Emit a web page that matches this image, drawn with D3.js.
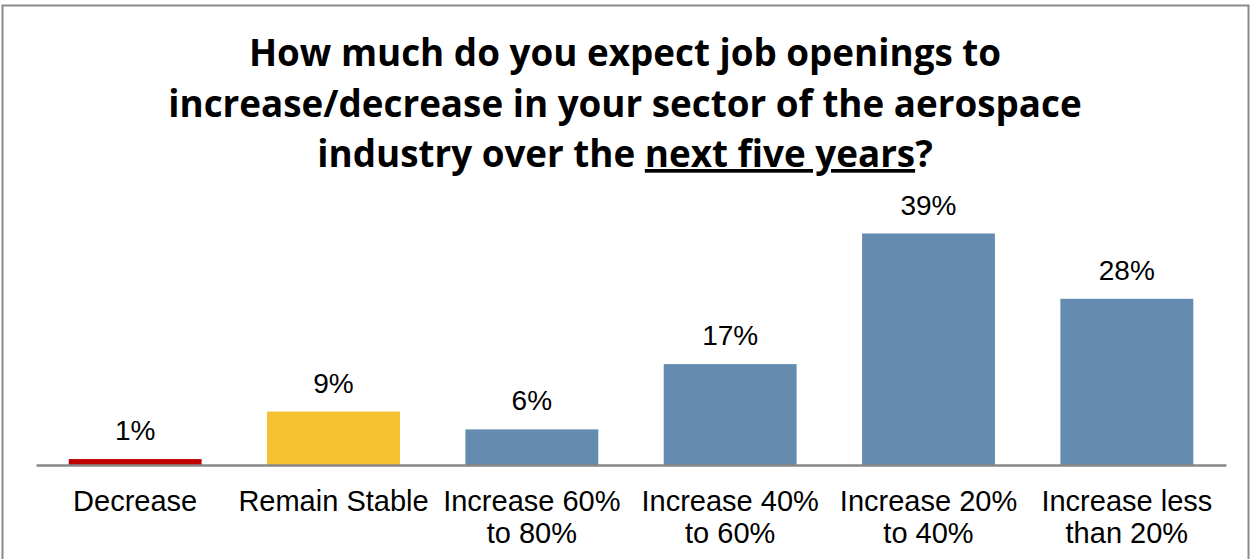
<!DOCTYPE html>
<html>
<head>
<meta charset="utf-8">
<script src="https://cdn.jsdelivr.net/npm/d3@7"></script>
<style>
  html, body { margin: 0; padding: 0; background: #fff; }
  svg { display: block; }
</style>
</head>
<body>
<svg id="chart" width="1250" height="559"></svg>
<script>
// Survey answers and their shares (%)
const categories = [
  ["Decrease"],
  ["Remain Stable"],
  ["Increase 60%", "to 80%"],
  ["Increase 40%", "to 60%"],
  ["Increase 20%", "to 40%"],
  ["Increase less", "than 20%"]
];
const shares = [1, 9, 6, 17, 39, 28];
const barColors = ["#C00000", "#F5C132", "#658CB0", "#658CB0", "#658CB0", "#658CB0"];
const titleLines = [
  "How much do you expect job openings to",
  "increase/decrease in your sector of the aerospace",
  "industry over the "
];

const svg = d3.select("#chart");

// Frame
svg.append("rect")
  .attr("x", 2.5).attr("y", 5.5)
  .attr("width", 1246).attr("height", 600)
  .attr("fill", "none")
  .attr("stroke", "#8a8a8a")
  .attr("stroke-width", 2);

// Title
const title = svg.append("text")
  .attr("text-anchor", "middle")
  .attr("font-family", "'Open Sans', Lato, sans-serif")
  .attr("font-weight", "bold")
  .attr("font-size", 36.8)
  .attr("fill", "#000");
titleLines.forEach((line, i) => {
  const t = title.append("tspan")
    .attr("x", 625)
    .attr("y", 66 + i * 50.5)
    .text(line);
  if (i === 2) {
    t.append("tspan").attr("text-decoration", "underline").text("next five years");
    t.append("tspan").text("?");
  }
});

// Scales
const x = d3.scaleBand()
  .domain(d3.range(shares.length))
  .range([36, 1226])
  .paddingInner(0.33)
  .paddingOuter(0.165);

const baseY = 465;
const y = d3.scaleLinear().domain([0, 39]).range([baseY, 233.5]);

// Bars
svg.append("g").selectAll("rect")
  .data(shares)
  .join("rect")
  .attr("x", (d, i) => x(i))
  .attr("y", d => y(d))
  .attr("width", x.bandwidth())
  .attr("height", d => baseY - y(d))
  .attr("fill", (d, i) => barColors[i]);

// Value labels
svg.append("g").selectAll("text")
  .data(shares)
  .join("text")
  .attr("x", (d, i) => x(i) + x.bandwidth() / 2)
  .attr("y", d => y(d) - 19)
  .attr("text-anchor", "middle")
  .attr("font-family", "'Liberation Sans', Arial, sans-serif")
  .attr("font-size", 28)
  .attr("fill", "#000")
  .text(d => d + "%");

// Baseline axis
const axis = d3.axisBottom(x).tickSize(0).tickFormat("");
const gAxis = svg.append("g")
  .attr("transform", `translate(0,${baseY})`)
  .call(axis);
gAxis.select(".domain").attr("stroke", "#878787").attr("stroke-width", 2.5);

// Category labels
gAxis.selectAll(".tick").each(function (d) {
  const t = d3.select(this).append("text")
    .attr("text-anchor", "middle")
    .attr("font-family", "'Liberation Sans', Arial, sans-serif")
    .attr("font-size", 29)
    .attr("fill", "#000");
  categories[d].forEach((line, j) => {
    t.append("tspan").attr("x", 0).attr("y", 45.5 + j * 32).text(line);
  });
});
</script>
</body>
</html>
